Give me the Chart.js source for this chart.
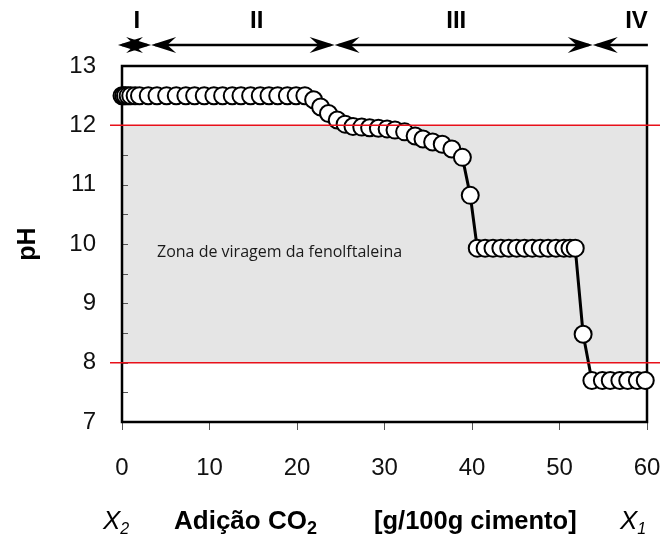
<!DOCTYPE html>
<html>
<head>
<meta charset="utf-8">
<script src="https://cdn.jsdelivr.net/npm/chart.js@4.4.1/dist/chart.umd.min.js"></script>
<style>
  html, body { margin: 0; padding: 0; background: #fff; }
</style>
</head>
<body>
<canvas id="phChart" width="671" height="538"></canvas>
<script>
// CO2 added [g/100g cimento] and measured pH
var co2 = [
  0, 0.2, 0.4, 0.7, 1.0, 1.5, 2.0, 3.0, 4.0, 5.1, 6.2, 7.3, 8.3, 9.4, 10.5,
  11.5, 12.6, 13.6, 14.7, 15.8, 16.8, 17.8, 18.9, 19.9, 20.9,
  21.9, 22.7, 23.6, 24.6, 25.5, 26.4, 27.4, 28.3, 29.3, 30.3, 31.2, 32.3,
  33.5, 34.4, 35.5, 36.6, 37.7, 38.9, 39.8,
  40.6, 41.5, 42.4, 43.3, 44.2, 45.1, 46.0, 46.9, 47.8, 48.7, 49.6, 50.5, 51.2, 51.8,
  52.7,
  53.7, 54.9, 55.8, 56.9, 57.8, 58.9, 59.8
];
var ph = [
  12.5, 12.5, 12.5, 12.5, 12.5, 12.5, 12.5, 12.5, 12.5, 12.5, 12.5, 12.5, 12.5, 12.5, 12.5,
  12.5, 12.5, 12.5, 12.5, 12.5, 12.5, 12.5, 12.5, 12.5, 12.5,
  12.43, 12.31, 12.2, 12.09, 12.02, 11.98, 11.97, 11.96, 11.95, 11.94, 11.92, 11.89,
  11.82, 11.77, 11.72, 11.68, 11.6, 11.46, 10.82,
  9.93, 9.93, 9.93, 9.93, 9.93, 9.93, 9.93, 9.93, 9.93, 9.93, 9.93, 9.93, 9.93, 9.93,
  8.48,
  7.7, 7.7, 7.7, 7.7, 7.7, 7.7, 7.7
];

var xTicks = [0, 10, 20, 30, 40, 50, 60];
var yTicks = [7, 8, 9, 10, 11, 12, 13];
var zoneLimits = [8, 12];
var zoneText = "Zona de viragem da fenolftaleina";
var regionBounds = [-0.46, 3.33, 24.3, 53.8, 60.1];
var regionNames = ["I", "II", "III", "IV"];
var regionLabelAt = [1.7, 15.4, 38.2, 58.8];

(function () {
  "use strict";

  var FONT = "'Liberation Sans', Arial, sans-serif";

  function arrowHead(ctx, tx, ty, dir) {
    var L = 25, W = 8;
    ctx.beginPath();
    ctx.moveTo(tx, ty);
    ctx.lineTo(tx - dir * L, ty - W);
    ctx.lineTo(tx - dir * L * 0.65, ty);
    ctx.lineTo(tx - dir * L, ty + W);
    ctx.closePath();
    ctx.fill();
  }

  var decor = {
    id: "decor",
    beforeDatasetsDraw: function (chart) {
      var ctx = chart.ctx, a = chart.chartArea;
      var xs = chart.scales.x, ys = chart.scales.y;
      ctx.save();
      // gray phenolphthalein zone
      var t = ys.getPixelForValue(zoneLimits[1]);
      var b = ys.getPixelForValue(zoneLimits[0]);
      ctx.fillStyle = "#e5e5e5";
      ctx.fillRect(a.left, t, a.right - a.left, b - t);

      ctx.fillStyle = "#1a1a1a";
      ctx.font = "16px 'Open Sans'";
      ctx.textBaseline = "middle";
      ctx.fillText(zoneText, xs.getPixelForValue(4), ys.getPixelForValue(9.85));

      // inner minor ticks on the left border
      ctx.strokeStyle = "#555";
      ctx.lineWidth = 1;
      for (var v = 7.5; v < 13; v += 0.5) {
        var py = Math.round(ys.getPixelForValue(v)) + 0.5;
        ctx.beginPath();
        ctx.moveTo(a.left, py);
        ctx.lineTo(a.left + 6, py);
        ctx.stroke();
      }

      // plot frame
      ctx.strokeStyle = "#000";
      ctx.lineWidth = 2.5;
      ctx.strokeRect(a.left, a.top, a.right - a.left, a.bottom - a.top);
      ctx.restore();
    },
    afterDatasetsDraw: function (chart) {
      var ctx = chart.ctx, a = chart.chartArea, ys = chart.scales.y;
      ctx.save();
      ctx.strokeStyle = "#e8101a";
      ctx.lineWidth = 1.5;
      zoneLimits.forEach(function (v) {
        var py = ys.getPixelForValue(v);
        ctx.beginPath();
        ctx.moveTo(a.left - 12, py);
        ctx.lineTo(a.right + 13, py);
        ctx.stroke();
      });
      ctx.restore();
    },
    afterDraw: function (chart) {
      var ctx = chart.ctx, xs = chart.scales.x;
      var ay = 45;
      ctx.save();
      ctx.fillStyle = "#000";
      ctx.strokeStyle = "#000";
      ctx.lineWidth = 2.5;
      for (var i = 0; i < regionNames.length; i++) {
        var x0 = xs.getPixelForValue(regionBounds[i]);
        var x1 = xs.getPixelForValue(regionBounds[i + 1]);
        ctx.beginPath();
        ctx.moveTo(x0 + 4, ay);
        ctx.lineTo(x1 - (i === regionNames.length - 1 ? 0 : 4), ay);
        ctx.stroke();
        arrowHead(ctx, x0, ay, -1);
        if (i < regionNames.length - 1) arrowHead(ctx, x1, ay, 1);
      }
      ctx.font = "bold 24px " + FONT;
      ctx.textAlign = "center";
      ctx.textBaseline = "middle";
      regionNames.forEach(function (n, k) {
        ctx.fillText(n, xs.getPixelForValue(regionLabelAt[k]), 21);
      });

      // bottom axis caption: X2  Adição CO2  [g/100g cimento]  X1
      var by = 529;
      ctx.textAlign = "left";
      ctx.textBaseline = "alphabetic";
      ctx.font = "italic 26px " + FONT;
      ctx.fillText("X", 103, by);
      var w = ctx.measureText("X").width;
      ctx.font = "italic 16px " + FONT;
      ctx.fillText("2", 103 + w, by + 5);

      ctx.font = "italic 26px " + FONT;
      ctx.fillText("X", 620, by);
      w = ctx.measureText("X").width;
      ctx.font = "italic 16px " + FONT;
      ctx.fillText("1", 620 + w, by + 5);

      var cx = 174;
      ctx.font = "bold 26px " + FONT;
      ctx.fillText("Adição CO", cx, by);
      cx += ctx.measureText("Adição CO").width;
      ctx.font = "bold 18px " + FONT;
      ctx.fillText("2", cx, by + 5);
      ctx.font = "bold 25.5px " + FONT;
      ctx.fillText("[g/100g cimento]", 374, by);
      ctx.restore();
    }
  };

  var points = co2.map(function (v, i) { return { x: v, y: ph[i] }; });

  new Chart(document.getElementById("phChart"), {
    type: "scatter",
    data: {
      datasets: [
        {
          data: points,
          showLine: true,
          borderColor: "#000",
          borderWidth: 3,
          pointRadius: 8.5,
          pointBackgroundColor: "#fff",
          pointBorderColor: "#000",
          pointBorderWidth: 2,
          clip: false,
        },
      ],
    },
    options: {
      responsive: false,
      animation: false,
      layout: { padding: { top: 66, right: 24, left: 0, bottom: 0 } },
      plugins: { legend: { display: false }, tooltip: { enabled: false } },
      scales: {
        x: {
          type: "linear",
          min: xTicks[0],
          max: xTicks[xTicks.length - 1],
          afterFit: function (s) {
            s.height = 116;
            s.paddingLeft = 0;
            s.paddingRight = 0;
          },
          afterBuildTicks: function (s) {
            s.ticks = xTicks.map(function (v) { return { value: v }; });
          },
          ticks: {
            color: "#111",
            padding: 24,
            font: { size: 24, family: FONT },
          },
          grid: {
            drawOnChartArea: false,
            drawTicks: true,
            tickLength: 8,
            color: "#555",
          },
          border: { display: false },
        },
        y: {
          type: "linear",
          min: yTicks[0],
          max: yTicks[yTicks.length - 1],
          afterFit: function (s) {
            s.width = 122;
            s.paddingTop = 0;
            s.paddingBottom = 0;
          },
          afterBuildTicks: function (s) {
            s.ticks = yTicks.map(function (v) { return { value: v }; });
          },
          ticks: {
            color: "#111",
            padding: 26,
            font: { size: 24, family: FONT },
          },
          grid: { display: false, drawTicks: false },
          border: { display: false },
          title: {
            display: true,
            text: "pH",
            color: "#000",
            padding: { top: 13 },
            font: { size: 25, weight: "bold", family: FONT },
          },
        },
      },
    },
    plugins: [decor],
  });
})();
</script>
</body>
</html>
